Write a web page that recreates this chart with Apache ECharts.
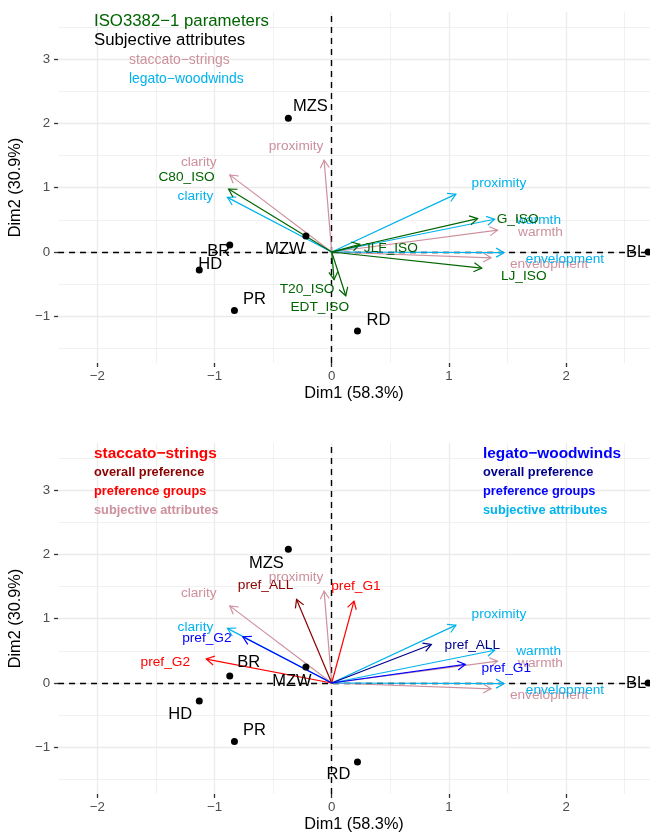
<!DOCTYPE html>
<html><head><meta charset="utf-8">
<script src="https://cdn.jsdelivr.net/npm/echarts@6/dist/echarts.min.js"></script>
<style>html,body{margin:0;padding:0;background:#fff;overflow:hidden}#c{width:650px;height:834px}</style>
</head><body><div id="c"></div>
<script>
// ---------- data ----------
const samples = ['MZS', 'BR', 'HD', 'PR', 'MZW', 'RD', 'BL'];
const sampleDim1 = [-0.37, -0.87, -1.13, -0.83, -0.22, 0.22, 2.70];
const sampleDim2 = [2.08, 0.11, -0.28, -0.91, 0.25, -1.23, 0.00];

const attrNames = ['clarity', 'proximity', 'warmth', 'envelopment'];
const stacAttrDim1 = [-0.87, -0.065, 1.415, 1.36];
const stacAttrDim2 = [1.20, 1.43, 0.34, -0.09];
const legAttrDim1 = [-0.89, 1.06, 1.39, 1.47];
const legAttrDim2 = [0.85, 0.90, 0.51, -0.01];

const isoNames = ['C80_ISO', 'G_ISO', 'JLF_ISO', 'LJ_ISO', 'T20_ISO', 'EDT_ISO'];
const isoDim1 = [-0.88, 1.245, 0.24, 1.28, 0.02, 0.12];
const isoDim2 = [0.98, 0.52, 0.12, -0.25, -0.43, -0.68];

const prefNames = ['pref_ALL', 'pref_G1', 'pref_G2'];
const stacPrefDim1 = [-0.30, 0.19, -1.07];
const stacPrefDim2 = [1.30, 1.275, 0.373];
const legPrefDim1 = [0.85, 1.14, -0.758];
const legPrefDim2 = [0.60, 0.29, 0.72];

const xTicks = [-2, -1, 0, 1, 2];
const yTicks = [-1, 0, 1, 2, 3];
const xMinor = [-1.5, -0.5, 0.5, 1.5, 2.5];
const yMinor = [-1.5, -0.5, 0.5, 1.5, 2.5, 3.5];
const xTitle = 'Dim1 (58.3%)';
const yTitle = 'Dim2 (30.9%)';

// ---------- layout (pixel offsets of labels, not data) ----------
const ptOffTop = [[22,-12],[-11,7],[11,-6],[20,-11],[-21,14],[21,-11],[-12,0]];
const ptOffBot = [[-22,14],[19,-13],[-19,13],[20,-11],[-14,15],[-19,12],[-12,0]];
const stacAttrOff = [[-31,-13],[-28,-14],[43,2],[58,6]];
const legAttrOff = [[-32,-1],[43,-11],[44,1],[61,7]];
const isoOff = [[-42,-12],[40,1],[31,4],[42,8],[-27,10],[-26,11]];
const stacPrefOff = [[-31,-14],[2,-15],[-41,3]];
const legPrefOff = [[41,1],[41,4],[-36,1]];

// ---------- colours ----------
const PINK = '#CD919E', SKY = '#00B2EE', GREEN = '#006400';
const RED = '#FF0000', DARKRED = '#8B0000', BLUE = '#0000FF', NAVY = '#00008B';
const FONT = '"Liberation Sans", Arial, Helvetica, sans-serif';

const chart = echarts.init(document.getElementById('c'), null, {renderer: 'canvas'});

const X_MIN = -2.335, X_MAX = 2.716, Y_MIN = -1.726, Y_MAX = 3.733;
const fmt = v => (v < 0 ? '\u2212' + Math.abs(v) : String(v));

function xAxisFor(g) {
  return {
    gridIndex: g, type: 'value', min: X_MIN, max: X_MAX,
    axisLine: {show: false, onZero: false}, splitLine: {show: false},
    axisTick: {show: true, customValues: xTicks, length: 4, lineStyle: {color: '#333', width: 1.3}},
    axisLabel: {customValues: xTicks, color: '#4D4D4D', fontSize: 13.3, margin: 7, fontFamily: FONT, formatter: fmt},
    name: xTitle, nameLocation: 'middle', nameGap: 23,
    nameTextStyle: {fontSize: 16.3, color: '#000', fontFamily: FONT}
  };
}
function yAxisFor(g) {
  return {
    gridIndex: g, type: 'value', min: Y_MIN, max: Y_MAX,
    axisLine: {show: false, onZero: false}, splitLine: {show: false},
    axisTick: {show: true, customValues: yTicks, length: 4, lineStyle: {color: '#333', width: 1.3}},
    axisLabel: {customValues: yTicks, color: '#4D4D4D', fontSize: 13.3, margin: 8, fontFamily: FONT, formatter: fmt},
    name: yTitle, nameLocation: 'middle', nameGap: 26, nameRotate: 90,
    nameTextStyle: {fontSize: 16.3, color: '#000', fontFamily: FONT}
  };
}

function gridLines(g) {
  const d = [];
  xTicks.forEach(v => d.push({xAxis: v, lineStyle: {width: 1.3}}));
  yTicks.forEach(v => d.push({yAxis: v, lineStyle: {width: 1.3}}));
  xMinor.forEach(v => d.push({xAxis: v, lineStyle: {width: 0.7}}));
  yMinor.forEach(v => d.push({yAxis: v, lineStyle: {width: 0.7}}));
  return {
    type: 'scatter', xAxisIndex: g, yAxisIndex: g, data: [[0, 0]], symbolSize: 0, silent: true, z: 0,
    markLine: {z: 0, silent: true, animation: false, symbol: ['none', 'none'], label: {show: false},
      lineStyle: {color: '#EBEBEB', type: 'solid'}, data: d}
  };
}
function zeroLines(g) {
  return {
    type: 'scatter', xAxisIndex: g, yAxisIndex: g, data: [[0, 0]], symbolSize: 0, silent: true, z: 1,
    markLine: {z: 1, silent: true, animation: false, symbol: ['none', 'none'], label: {show: false},
      lineStyle: {color: '#000', type: [6, 5], width: 1.4},
      data: [{xAxis: 0}, {yAxis: 0}]}
  };
}

function arrows(g, names, xs, ys, offs, color, z) {
  return {
    type: 'custom', coordinateSystem: 'cartesian2d', xAxisIndex: g, yAxisIndex: g,
    z: z, silent: true, clip: false,
    data: xs.map((x, i) => [x, ys[i]]),
    encode: {x: 0, y: 1},
    renderItem: function (params, api) {
      const i = params.dataIndex;
      const p0 = api.coord([0, 0]);
      const p1 = api.coord([api.value(0), api.value(1)]);
      const ang = Math.atan2(p1[1] - p0[1], p1[0] - p0[0]);
      const L = 9, a = Math.PI / 6;
      const h1 = [p1[0] - L * Math.cos(ang - a), p1[1] - L * Math.sin(ang - a)];
      const h2 = [p1[0] - L * Math.cos(ang + a), p1[1] - L * Math.sin(ang + a)];
      return {
        type: 'group', children: [
          {type: 'line', shape: {x1: p0[0], y1: p0[1], x2: p1[0], y2: p1[1]}, style: {stroke: color, lineWidth: 1.2}},
          {type: 'polyline', shape: {points: [h1, p1, h2]}, style: {stroke: color, lineWidth: 1.2, fill: null}},
          {type: 'text', x: p1[0] + offs[i][0], y: p1[1] + offs[i][1],
            style: {text: names[i], fill: color, font: '13.7px ' + FONT, align: 'center', verticalAlign: 'middle'}}
        ]
      };
    }
  };
}

function points(g, offs) {
  return {
    type: 'scatter', xAxisIndex: g, yAxisIndex: g, z: 5, silent: true,
    symbol: 'circle', symbolSize: 7, itemStyle: {color: '#000', opacity: 1},
    data: samples.map((n, i) => ({
      name: n, value: [sampleDim1[i], sampleDim2[i]],
      label: {offset: offs[i]}
    })),
    label: {show: true, position: 'inside', formatter: '{b}', color: '#000', opacity: 1,
      textBorderWidth: 0, fontSize: 16.5, fontFamily: FONT}
  };
}

function txt(x, y, s, color, size, weight) {
  return {type: 'text', x: x, y: y, z: 100,
    style: {text: s, fill: color, font: (weight || 'normal') + ' ' + size + 'px ' + FONT, align: 'left', verticalAlign: 'middle'}};
}

function prefArrows(g, xs, ys, offs, cAll, cGrp, z) {
  return [
    arrows(g, [prefNames[0]], [xs[0]], [ys[0]], [offs[0]], cAll, z),
    arrows(g, prefNames.slice(1), xs.slice(1), ys.slice(1), offs.slice(1), cGrp, z)
  ];
}

const option = {
  animation: false,
  backgroundColor: '#fff',
  grid: [
    {left: 55, top: 12, width: 595, height: 351},
    {left: 55, top: 443, width: 595, height: 351}
  ],
  xAxis: [xAxisFor(0), xAxisFor(1)],
  yAxis: [yAxisFor(0), yAxisFor(1)],
  series: [
    gridLines(0), zeroLines(0),
    arrows(0, attrNames, stacAttrDim1, stacAttrDim2, stacAttrOff, PINK, 2),
    arrows(0, attrNames, legAttrDim1, legAttrDim2, legAttrOff, SKY, 3),
    arrows(0, isoNames, isoDim1, isoDim2, isoOff, GREEN, 4),
    points(0, ptOffTop),
    gridLines(1), zeroLines(1),
    arrows(1, attrNames, stacAttrDim1, stacAttrDim2, stacAttrOff, PINK, 2),
    arrows(1, attrNames, legAttrDim1, legAttrDim2, legAttrOff, SKY, 3),
    ...prefArrows(1, stacPrefDim1, stacPrefDim2, stacPrefOff, DARKRED, RED, 4),
    ...prefArrows(1, legPrefDim1, legPrefDim2, legPrefOff, NAVY, BLUE, 4),
    points(1, ptOffBot)
  ],
  graphic: [
    txt(94, 21.5, 'ISO3382\u22121 parameters', GREEN, 16.8),
    txt(94, 40.7, 'Subjective attributes', '#000', 16.8),
    txt(129, 60, 'staccato\u2212strings', PINK, 13.9),
    txt(129, 79, 'legato\u2212woodwinds', SKY, 13.9),
    txt(94, 453.3, 'staccato\u2212strings', RED, 15.4, 'bold'),
    txt(94, 472.3, 'overall preference', DARKRED, 12.8, 'bold'),
    txt(94, 491.5, 'preference groups', RED, 12.8, 'bold'),
    txt(94, 510, 'subjective attributes', PINK, 12.8, 'bold'),
    txt(483, 453.3, 'legato\u2212woodwinds', BLUE, 15.4, 'bold'),
    txt(483, 472.3, 'overall preference', NAVY, 12.8, 'bold'),
    txt(483, 491.5, 'preference groups', BLUE, 12.8, 'bold'),
    txt(483, 510, 'subjective attributes', SKY, 12.8, 'bold')
  ]
};

chart.setOption(option);
</script></body></html>
